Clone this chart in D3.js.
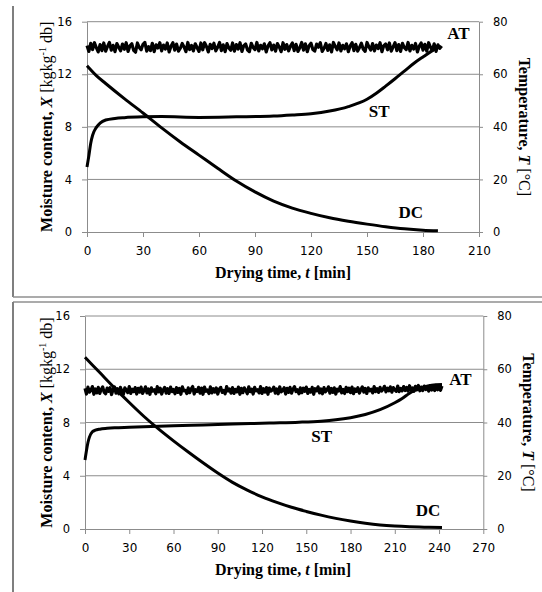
<!DOCTYPE html>
<html>
<head>
<meta charset="utf-8">
<script src="https://cdn.jsdelivr.net/npm/d3@7"></script>
<style>
  body { margin: 0; background: #fff; }
  text { fill: #000; }
</style>
</head>
<body>
<svg id="chart" width="542" height="592"></svg>
<script>
// ---- top panel: run lasting ~190 min ----
const dcTime1 = [0, 5, 10, 20, 30, 40, 50, 60, 70, 80, 90, 100, 110, 120, 130, 140, 150, 160, 170, 180, 188];
const dcVal1  = [12.65, 11.9, 11.3, 10.15, 9.05, 7.92, 6.85, 5.85, 4.85, 3.88, 3.05, 2.35, 1.82, 1.42, 1.08, 0.82, 0.6, 0.4, 0.24, 0.14, 0.1];

const stTime1 = [0, 1, 2, 3, 5, 7, 10, 15, 20, 30, 40, 60, 80, 100, 110, 120, 130, 140, 150, 155, 160, 165, 170, 175, 180, 185, 188];
const stVal1  = [24.7, 29, 33.8, 36.8, 39.8, 41.4, 42.6, 43.2, 43.5, 43.8, 43.9, 43.6, 43.8, 44.1, 44.5, 45.0, 46.0, 47.7, 50.5, 52.8, 55.5, 58.3, 61.2, 64.1, 66.6, 69.0, 70.3];

// air temperature, logged every minute
const atVal1 = [
  70.9, 68.7, 71.8, 69.4, 72.0, 70.1, 68.5, 71.3, 69.0, 71.9, 68.8, 70.6, 72.1, 69.2, 71.0, 68.6, 71.7, 70.3, 68.9, 71.5,
  69.5, 72.0, 68.7, 70.8, 71.6, 69.1, 68.4, 71.9, 70.2, 69.3, 71.4, 72.1, 68.8, 70.5, 69.0, 71.8, 68.6, 71.2, 70.0, 72.0,
  68.9, 71.1, 69.6, 71.9, 68.5, 70.7, 72.0, 69.2, 71.5, 68.8, 69.9, 71.7, 70.4, 68.6, 72.1, 69.4, 71.0, 68.9, 71.6, 70.1,
  68.7, 71.9, 69.3, 72.0, 70.6, 68.5, 71.4, 69.8, 71.8, 68.9, 70.3, 72.1, 69.0, 71.2, 68.6, 71.7, 70.0, 69.1, 71.9, 68.8,
  71.3, 69.6, 72.0, 68.7, 70.9, 71.5, 69.2, 68.6, 71.8, 70.2, 69.4, 72.1, 68.9, 71.0, 69.7, 71.6, 68.5, 70.8, 72.0, 69.3,
  71.1, 68.8, 71.7, 70.4, 68.6, 72.0, 69.5, 71.3, 68.9, 70.7, 71.9, 69.0, 71.4, 68.7, 70.1, 72.1, 69.2, 71.6, 68.6, 70.9,
  71.8, 69.4, 68.8, 71.5, 70.3, 72.0, 68.7, 69.9, 71.7, 69.1, 71.2, 68.5, 72.1, 70.6, 69.3, 71.9, 68.9, 71.0, 69.7, 71.6,
  68.6, 70.8, 72.0, 69.0, 71.4, 68.8, 70.2, 71.8, 69.5, 68.7, 72.1, 70.5, 69.2, 71.7, 68.9, 71.1, 69.8, 72.0, 68.6, 70.9,
  71.5, 69.3, 71.9, 68.8, 70.4, 72.0, 69.0, 71.3, 68.7, 71.8, 70.1, 69.4, 72.1, 68.9, 71.0, 69.6, 71.7, 68.5, 70.7, 71.9,
  69.2, 71.4, 68.8, 72.0, 70.3, 69.1, 71.6, 68.7, 71.2, 69.9, 70.8
];

// ---- bottom panel: run lasting ~242 min ----
const dcTime2 = [0, 10, 20, 30, 40, 50, 60, 70, 80, 90, 100, 110, 120, 130, 140, 150, 160, 170, 180, 190, 200, 210, 220, 230, 242];
const dcVal2  = [12.9, 11.75, 10.6, 9.5, 8.45, 7.5, 6.62, 5.78, 4.97, 4.2, 3.5, 2.92, 2.42, 2.0, 1.63, 1.32, 1.04, 0.8, 0.6, 0.43, 0.3, 0.22, 0.17, 0.14, 0.12];

const stTime2 = [0, 1, 2, 3, 5, 7, 10, 15, 20, 30, 45, 60, 80, 100, 125, 145, 160, 170, 180, 190, 200, 210, 215, 220, 225, 230, 235, 242];
const stVal2  = [25.9, 29.5, 32.5, 34.5, 36.5, 37.1, 37.5, 37.8, 38.0, 38.2, 38.5, 38.8, 39.1, 39.4, 39.8, 40.1, 40.5, 41.0, 41.8, 43.0, 44.8, 47.4, 49.0, 51.0, 52.4, 53.4, 54.0, 54.3];

const atVal2 = [
  52.8, 50.7, 53.3, 51.4, 52.1, 53.5, 50.6, 52.6, 51.1, 53.2, 50.9, 52.4, 53.4, 51.3, 50.8, 52.9, 51.7, 53.1, 50.5, 52.3,
  53.4, 51.0, 52.7, 50.8, 53.2, 51.9, 50.6, 53.0, 52.2, 51.2, 53.5, 50.9, 52.5, 51.6, 53.1, 50.7, 52.8, 51.4, 53.3, 50.9,
  52.0, 53.4, 51.1, 52.6, 50.6, 53.0, 51.8, 52.3, 50.8, 53.5, 51.5, 52.9, 50.7, 52.2, 53.2, 51.0, 52.7, 50.9, 53.3, 51.6,
  52.4, 50.8, 53.1, 51.3, 52.8, 50.6, 53.4, 51.9, 52.1, 50.9, 53.0, 51.2, 52.6, 53.5, 50.7, 52.3, 51.6, 53.2, 51.0, 52.9,
  50.6, 53.3, 51.7, 52.2, 50.9, 53.4, 51.1, 52.7, 51.4, 53.0, 50.7, 52.5, 53.2, 51.3, 52.0, 50.8, 53.5, 51.8, 52.6, 51.0,
  53.1, 50.9, 52.4, 51.5, 53.3, 50.6, 52.8, 51.2, 53.0, 52.1, 50.8, 53.4, 51.6, 52.5, 50.7, 53.2, 51.9, 52.3, 51.1, 53.5,
  50.9, 52.7, 51.4, 53.1, 50.6, 52.9, 51.8, 52.2, 53.3, 51.0, 52.6, 50.8, 53.4, 51.5, 52.0, 53.1, 50.7, 52.8, 51.3, 53.2,
  51.0, 52.5, 53.5, 51.6, 52.3, 50.8, 53.0, 51.2, 52.9, 51.7, 53.3, 50.9, 52.4, 51.4, 53.2, 50.6, 52.7, 51.9, 53.4, 51.1,
  52.6, 50.8, 53.1, 51.5, 52.2, 53.4, 51.0, 52.8, 51.3, 53.0, 50.7, 52.5, 51.8, 53.5, 51.1, 52.4, 50.9, 53.2, 51.6, 52.9,
  51.2, 53.3, 50.8, 52.6, 51.7, 53.1, 51.0, 52.3, 53.4, 51.4, 52.8, 50.9, 53.0, 51.9, 52.5, 51.1, 53.5, 51.6, 52.7, 51.3,
  53.2, 51.8, 52.4, 53.6, 51.5, 52.9, 51.9, 53.4, 51.4, 53.1, 52.2, 51.7, 53.7, 51.6, 52.8, 51.9, 53.5, 52.0, 53.2, 51.8,
  53.8, 52.1, 53.0, 51.7, 53.6, 52.3, 53.9, 51.9, 53.3, 52.0, 53.7, 52.4, 53.1, 51.8, 53.8, 52.2, 53.5, 52.0, 53.9, 52.3,
  53.4, 52.1, 53.7
];
const atStep = 1; // minutes between air temperature readings

const moistTicks = [0, 4, 8, 12, 16];
const tempTicks = [0, 20, 40, 60, 80];

// curve labels, placed in (time, temperature) units
const labels1 = [
  { name: "AT", t: 199, T: 75.6 },
  { name: "ST", t: 156.5, T: 46.0 },
  { name: "DC", t: 173.5, T: 7.6 }
];
const labels2 = [
  { name: "AT", t: 254.5, T: 56.3 },
  { name: "ST", t: 160.5, T: 34.9 },
  { name: "DC", t: 232.5, T: 7.1 }
];

const svg = d3.select("#chart");
const gridColor = "#8c8c8c";

// panel frames
svg.append("line").attr("x1", 13).attr("x2", 13).attr("y1", 6).attr("y2", 297)
  .attr("stroke", "#7f7f7f").attr("stroke-width", 2);
svg.append("line").attr("x1", 13).attr("x2", 542).attr("y1", 297).attr("y2", 297)
  .attr("stroke", "#8f8f8f").attr("stroke-width", 1.5);
svg.append("line").attr("x1", 13).attr("x2", 542).attr("y1", 302).attr("y2", 302)
  .attr("stroke", "#8f8f8f").attr("stroke-width", 1.5);
svg.append("line").attr("x1", 13).attr("x2", 13).attr("y1", 302).attr("y2", 592)
  .attr("stroke", "#7f7f7f").attr("stroke-width", 2);

function drawPanel(p) {
  const x = d3.scaleLinear().domain([0, p.xMax]).range([p.left, p.right]);
  const yX = d3.scaleLinear().domain([0, 16]).range([p.bottom, p.top]);
  const yT = d3.scaleLinear().domain([0, 80]).range([p.bottom, p.top]);

  const g = svg.append("g");

  // horizontal gridlines
  g.selectAll(".grid").data(moistTicks.filter(d => d > 0)).join("line")
    .attr("x1", p.left).attr("x2", p.right)
    .attr("y1", d => yX(d)).attr("y2", d => yX(d))
    .attr("stroke", gridColor).attr("stroke-width", 1);

  const styleAxis = (sel, size) => {
    sel.select(".domain").attr("stroke", gridColor);
    sel.selectAll(".tick line").attr("stroke", gridColor);
    sel.selectAll(".tick text")
      .attr("fill", "#404040")
      .style("font-family", "'DejaVu Sans', Verdana, sans-serif")
      .style("font-size", size + "px");
  };

  g.append("g").attr("transform", `translate(0,${p.bottom})`)
    .call(d3.axisBottom(x).tickValues(d3.range(0, p.xMax + 1, 30))
      .tickSize(5).tickSizeOuter(0).tickPadding(9))
    .call(s => styleAxis(s, 12));

  g.append("g").attr("transform", `translate(${p.left},0)`)
    .call(d3.axisLeft(yX).tickValues(moistTicks).tickSize(5).tickSizeOuter(0).tickPadding(10))
    .call(s => styleAxis(s, 11.5));

  g.append("g").attr("transform", `translate(${p.right},0)`)
    .call(d3.axisRight(yT).tickValues(tempTicks).tickSize(4).tickSizeOuter(0).tickPadding(10))
    .call(s => styleAxis(s, 11.5));

  // series
  const lineT = d3.line().x(d => x(d[0])).y(d => yT(d[1]));
  const lineX = d3.line().x(d => x(d[0])).y(d => yX(d[1])).curve(d3.curveMonotoneX);
  const lineTs = d3.line().x(d => x(d[0])).y(d => yT(d[1])).curve(d3.curveMonotoneX);

  g.append("path")
    .datum(p.at.map((v, i) => [i * atStep, v]))
    .attr("d", lineT)
    .attr("fill", "none").attr("stroke", "#000")
    .attr("stroke-width", 3.2).attr("stroke-linejoin", "round");

  g.append("path")
    .datum(p.stTime.map((t, i) => [t, p.st[i]]))
    .attr("d", lineTs)
    .attr("fill", "none").attr("stroke", "#000").attr("stroke-width", 3);

  g.append("path")
    .datum(p.dcTime.map((t, i) => [t, p.dc[i]]))
    .attr("d", lineX)
    .attr("fill", "none").attr("stroke", "#000").attr("stroke-width", 3);

  // curve labels
  g.selectAll(".lab").data(p.labels).join("text")
    .attr("x", d => x(d.t)).attr("y", d => yT(d.T))
    .attr("text-anchor", "middle").attr("dominant-baseline", "central")
    .style("font-family", "'Liberation Serif', 'Times New Roman', serif")
    .style("font-weight", "bold").style("font-size", "17px")
    .text(d => d.name);

  const serif = "'Liberation Serif', 'Times New Roman', serif";
  const midY = (p.top + p.bottom) / 2;

  // x title
  const xt = g.append("text")
    .attr("x", 283).attr("y", p.bottom + 46)
    .attr("text-anchor", "middle")
    .style("font-family", serif).style("font-size", "16px").style("font-weight", "bold");
  xt.append("tspan").text("Drying time, ");
  xt.append("tspan").style("font-style", "italic").text("t");
  xt.append("tspan").text(" [min]");

  // left title
  const yl = g.append("text")
    .attr("transform", `translate(52,${midY}) rotate(-90)`)
    .attr("text-anchor", "middle")
    .style("font-family", serif).style("font-size", "16px");
  yl.append("tspan").style("font-weight", "bold").text("Moisture content, ");
  yl.append("tspan").style("font-weight", "bold").style("font-style", "italic").text("X");
  yl.append("tspan").text(" [kgkg");
  yl.append("tspan").attr("dy", -6).style("font-size", "10px").text("-1");
  yl.append("tspan").attr("dy", 6).text(" db]");

  // right title
  const yr = g.append("text")
    .attr("transform", `translate(${p.right + 40},${midY}) rotate(90)`)
    .attr("text-anchor", "middle")
    .style("font-family", serif).style("font-size", "16px");
  yr.append("tspan").style("font-weight", "bold").text("Temperature, ");
  yr.append("tspan").style("font-weight", "bold").style("font-style", "italic").text("T");
  yr.append("tspan").text(" [°C]");
}

drawPanel({
  left: 87, right: 479, top: 21.7, bottom: 232, xMax: 210,
  dcTime: dcTime1, dc: dcVal1, stTime: stTime1, st: stVal1, at: atVal1, labels: labels1
});
drawPanel({
  left: 85, right: 483.3, top: 316, bottom: 529, xMax: 270,
  dcTime: dcTime2, dc: dcVal2, stTime: stTime2, st: stVal2, at: atVal2, labels: labels2
});
</script>
</body>
</html>
